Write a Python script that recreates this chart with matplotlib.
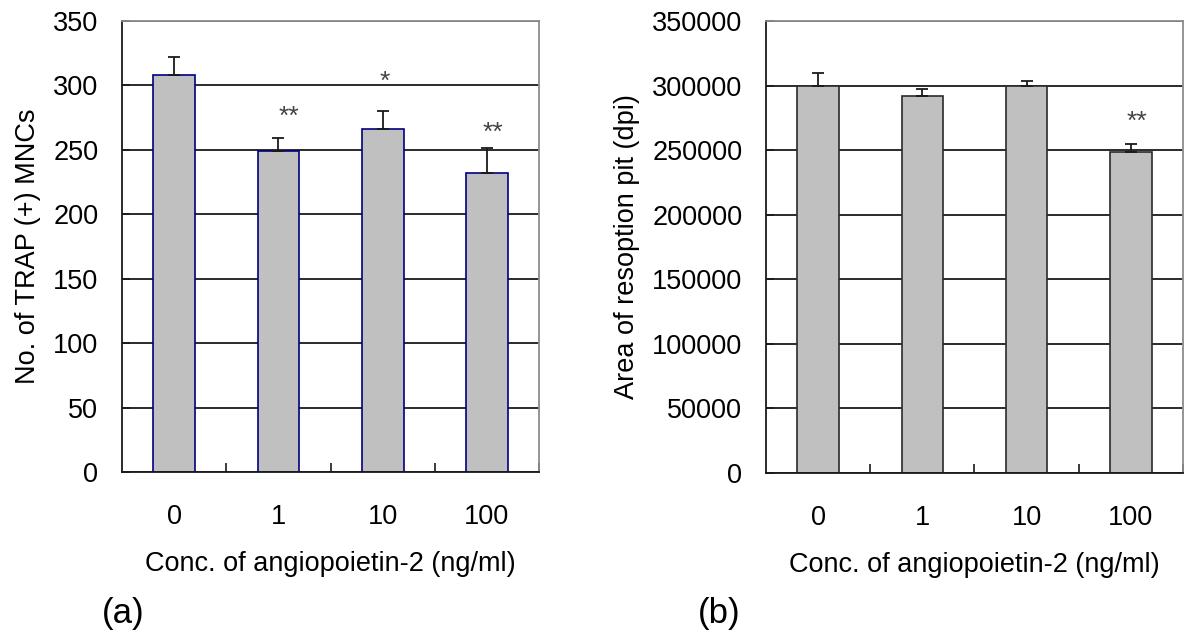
import matplotlib.pyplot as plt
import numpy as np

plt.rcParams['font.family'] = ['Liberation Sans', 'DejaVu Sans']

# data
conc_labels = ['0', '1', '10', '100']

trap_mean = [308, 249, 266, 232]
trap_err = [14, 10, 14, 19.5]
trap_sig = ['', '**', '*', '**']
trap_sig_y = [0, 279, 306, 266]
trap_sig_dx = [0, 0.10, 0.02, 0.06]

pit_mean = [300000, 291700, 299900, 248300]
pit_err = [10000, 5700, 4000, 6500]
pit_sig = ['', '', '', '**']
pit_sig_y = [0, 0, 0, 274700]
pit_sig_dx = [0, 0, 0, 0.055]

FS = 19.5
STAR_FS = 19
GRID = '#1a1a1a'
BORDER = '#8c8c8c'

fig = plt.figure(figsize=(11.85, 6.34), dpi=100)
ax1 = fig.add_axes([0.1030, 0.2555, 0.3519, 0.7114])
ax2 = fig.add_axes([0.6464, 0.2540, 0.3519, 0.7129])


def draw_panel(ax, means, errs, sig, sig_y, sig_dx, ymax, ystep, edge, ylabel):
    x = np.arange(len(means))
    ax.set_axisbelow(True)
    ax.yaxis.grid(True, color=GRID, lw=1.3)
    ax.bar(x, means, width=0.4, color='#c0c0c0', edgecolor=edge, lw=1.2, zorder=2)
    ax.errorbar(x, means, yerr=[np.zeros(len(errs)), errs], fmt='none',
                ecolor='#1a1a1a', elinewidth=1.3, capsize=4.5, capthick=1.3, zorder=3)
    # asterisks sit high in the glyph box, so anchor on the baseline and drop a bit
    for xi, s, sy, dx in zip(x, sig, sig_y, sig_dx):
        if s:
            ax.annotate(s, xy=(xi + dx, sy), xytext=(0, -0.42 * STAR_FS),
                        textcoords='offset points', ha='center', va='baseline',
                        fontsize=STAR_FS, color='#444444', zorder=4)

    ax.set_xlim(-0.5, len(means) - 0.5)
    ax.set_ylim(0, ymax)
    ax.set_yticks(np.arange(0, ymax + 1, ystep))
    ax.set_xticks(x)
    ax.set_xticklabels(conc_labels)
    ax.set_xticks(np.arange(0.5, len(means)), minor=True)
    ax.tick_params(axis='x', which='major', length=0, pad=23, labelsize=FS)
    ax.tick_params(axis='x', which='minor', direction='in', length=6.5, width=1.2,
                   color='#1a1a1a')
    ax.tick_params(axis='y', direction='in', length=6, width=1.2, pad=17,
                   labelsize=FS, color='#1a1a1a')

    for side in ['left', 'bottom']:
        ax.spines[side].set_color('#1a1a1a')
        ax.spines[side].set_linewidth(1.3)
    for side in ['top', 'right']:
        ax.spines[side].set_color(BORDER)
        ax.spines[side].set_linewidth(1.3)

    ax.set_xlabel('Conc. of angiopoietin-2 (ng/ml)', fontsize=FS, labelpad=15)
    ax.set_ylabel(ylabel, fontsize=FS, labelpad=9)


draw_panel(ax1, trap_mean, trap_err, trap_sig, trap_sig_y, trap_sig_dx,
           350, 50, '#000080', 'No. of TRAP (+) MNCs')
draw_panel(ax2, pit_mean, pit_err, pit_sig, pit_sig_y, pit_sig_dx,
           350000, 50000, '#2a2a2a', 'Area of resoption pit (dpi)')

fig.text(0.1038, 0.033, '(a)', fontsize=25, ha='center', va='center')
fig.text(0.6072, 0.033, '(b)', fontsize=25, ha='center', va='center')

fig.savefig('out.png', dpi=100)
